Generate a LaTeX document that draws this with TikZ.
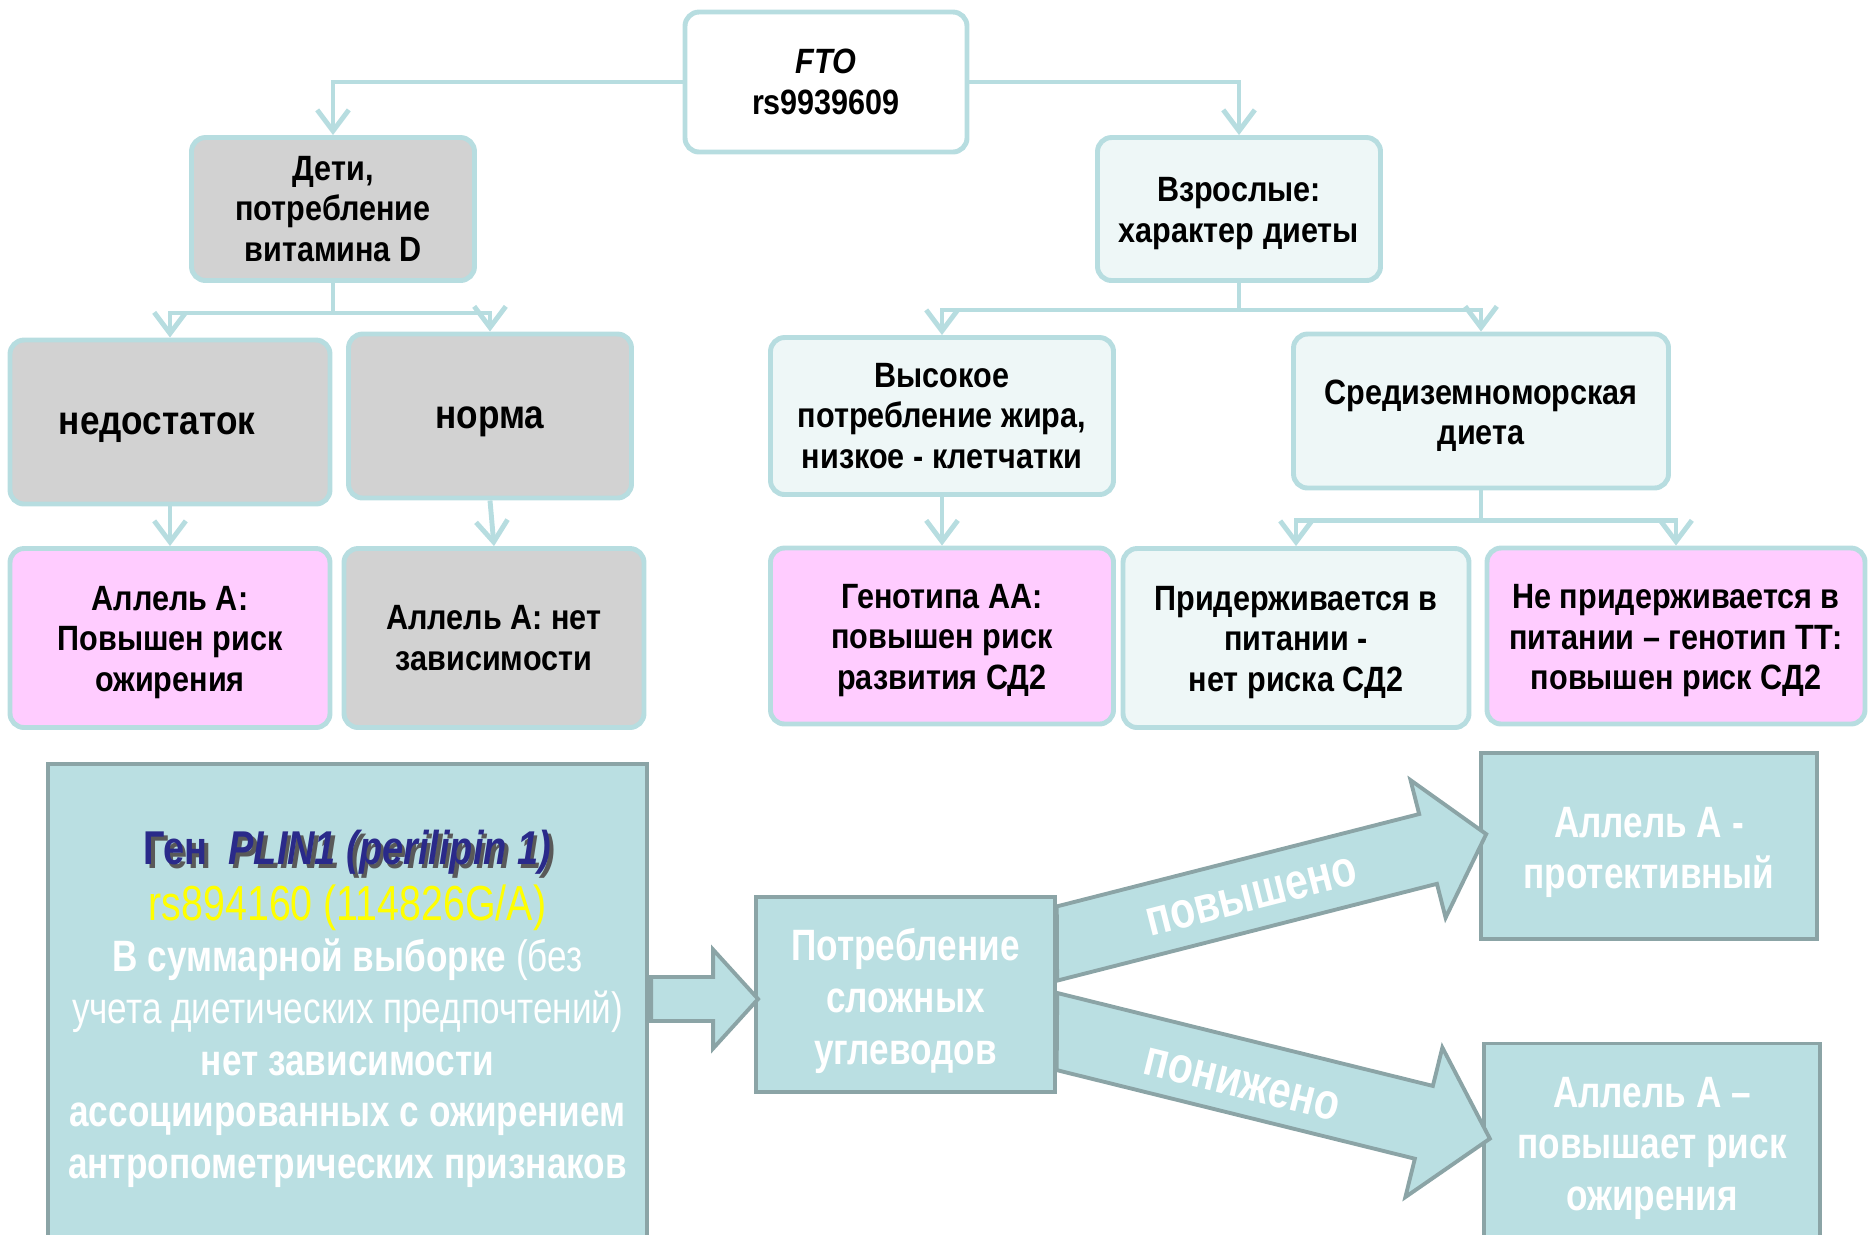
\documentclass[tikz,border=0pt]{standalone}
\usepackage{fontspec}
\setmainfont{Liberation Sans}[FakeStretch=0.87]
\newfontfamily\narrowfont{Liberation Sans}[FakeStretch=0.8]
\usetikzlibrary{arrows.meta,calc}

\definecolor{linkblue}{HTML}{B7DDE0}
\definecolor{boxgray}{HTML}{D2D2D2}
\definecolor{boxpink}{HTML}{FFCCFF}
\definecolor{boxpale}{HTML}{EEF7F7}
\definecolor{tealfill}{HTML}{BADFE2}
\definecolor{tealedge}{HTML}{8BA4A6}
\definecolor{genenavy}{HTML}{2A2A8A}
\definecolor{snpyellow}{HTML}{FFFF00}

\newcommand\shadowed[1]{\leavevmode\rlap{\kern1pt\raisebox{-1pt}{\color{black!65}#1}}{\color{genenavy}#1}}

\tikzset{
  databox/.style={draw=linkblue, line width=1.4pt, rounded corners=4pt, align=center,
    inner sep=1pt, font=\fontsize{10}{11.5}\selectfont\bfseries},
  graybox/.style={databox, fill=boxgray},
  pinkbox/.style={databox, fill=boxpink},
  palebox/.style={databox, fill=boxpale},
  bigword/.style={font=\fontsize{11.5}{13}\selectfont\bfseries, text height=7pt, text depth=0pt},
  link/.style={draw=linkblue, line width=1.4pt, -{Straight Barb[length=6pt,width=9pt]}},
  tealbox/.style={draw=tealedge, fill=tealfill, line width=1.1pt, align=center, text=white,
    inner sep=1pt, font=\narrowfont\fontsize{12.5}{14.7}\selectfont\bfseries},
  fatarrow/.style={draw=tealedge, fill=tealfill, line width=1.1pt},
  arrowlabel/.style={text=white, font=\narrowfont\fontsize{14.5}{16}\selectfont\bfseries}
}

\begin{document}
\begin{tikzpicture}
\useasboundingbox (0,0) rectangle (18.68,-12.34);
%draw top boxes
\node[databox, fill=white, minimum width=2.82cm, minimum height=1.40cm] (fto) at (8.26,-0.82) {\textit{FTO}\\rs9939609};
\node[graybox, minimum width=2.83cm, minimum height=1.43cm] (deti) at (3.33,-2.09) {Дети,\\потребление\\витамина D};
\node[palebox, minimum width=2.83cm, minimum height=1.43cm] (vzr) at (12.39,-2.09) {\rule{0pt}{9.5pt}Взрослые:\\характер диеты};
%draw second row
\node[graybox, bigword, minimum width=3.20cm, minimum height=1.64cm] (ned) at (1.70,-4.22) {недостаток\hspace{0.26cm}};
\node[graybox, bigword, minimum width=2.83cm, minimum height=1.64cm] (norma) at (4.90,-4.16) {норма};
\node[palebox, minimum width=3.43cm, minimum height=1.57cm] (vys) at (9.42,-4.16) {Высокое\\потребление жира,\\низкое - клетчатки};
\node[palebox, minimum width=3.75cm, minimum height=1.54cm] (sred) at (14.81,-4.11) {\rule{0pt}{9.8pt}Средиземноморская\\диета};
%draw third row
\node[pinkbox, minimum width=3.20cm, minimum height=1.79cm] (alA) at (1.70,-6.38) {\rule{0pt}{9.3pt}Аллель А:\\Повышен риск\\ожирения};
\node[graybox, minimum width=3.00cm, minimum height=1.79cm] (alnet) at (4.94,-6.38) {Аллель А: нет\\зависимости};
\node[pinkbox, minimum width=3.43cm, minimum height=1.76cm] (gen) at (9.42,-6.36) {\rule{0pt}{9.3pt}Генотипа АА:\\повышен риск\\развития СД2};
\node[palebox, minimum width=3.46cm, minimum height=1.79cm] (prid) at (12.96,-6.38) {\rule{0pt}{9.3pt}Придерживается в\\питании -\\нет риска СД2};
\node[pinkbox, minimum width=3.78cm, minimum height=1.76cm] (nepr) at (16.76,-6.36) {\rule{0pt}{9.5pt}Не придерживается в\\питании – генотип ТТ:\\повышен риск СД2};
%draw tree links
\draw[link] (fto.west) -| (deti.north);
\draw[link] (fto.east) -| (vzr.north);
\draw[link] (deti.south) -- ++(0,-0.30) -| (ned.north);
\draw[link] (deti.south) -- ++(0,-0.30) -| (norma.north);
\draw[link] (vzr.south) -- ++(0,-0.27) -| (vys.north);
\draw[link] (vzr.south) -- ++(0,-0.27) -| (sred.north);
\draw[link] (ned.south) -- (alA.north);
\draw[link] (norma.south) -- (alnet.north);
\draw[link] (vys.south) -- (gen.north);
\draw[link] (sred.south) -- ++(0,-0.30) -| (prid.north);
\draw[link] (sred.south) -- ++(0,-0.30) -| (nepr.north);
%
%draw lower part
\node[tealbox, minimum width=5.99cm, minimum height=4.90cm] (plin) at (3.475,-10.09) {%
{\fontsize{13.5}{16}\selectfont\shadowed{Ген\ \ \textit{PLIN1 (perilipin 1)}}}\\[1pt]
{\fontsize{14}{16}\selectfont\mdseries\color{snpyellow}rs894160 (114826G/A)}\\
В суммарной выборке {\mdseries(без}\\
{\mdseries учета диетических предпочтений)}\\
нет зависимости\\
ассоциированных с ожирением\\
антропометрических признаков};
\node[tealbox, minimum width=3.36cm, minimum height=1.86cm] (prot) at (16.49,-8.46) {\rule{0pt}{12.2pt}Аллель А -\\протективный};
\node[tealbox, minimum width=3.36cm, minimum height=1.97cm] (povys) at (16.52,-11.42) {\rule{0pt}{12.2pt}Аллель А –\\повышает риск\\ожирения};
\node[tealbox, minimum width=2.99cm, minimum height=1.95cm] (potr) at (9.055,-9.945) {\rule{0pt}{12.8pt}Потребление\\сложных\\углеводов};
%fat arrows
\begin{scope}[shift={(potr.west)}]
\draw[fatarrow] (0.04,-0.045) -- (-0.41,0.45) -- (-0.41,0.175) -- (-1.03,0.175) -- (-1.03,-0.265) -- (-0.41,-0.265) -- (-0.41,-0.54) -- cycle;
\end{scope}
\begin{scope}[shift={($(potr.east)+(0,0.51)$)}, rotate=14.3]
\draw[fatarrow] (0.09,0.36) -- (3.83,0.36) -- (3.83,0.71) -- (4.43,0) -- (3.83,-0.71) -- (3.83,-0.36) -- (-0.09,-0.36) -- cycle;
\node[arrowlabel, rotate=14.3] (uplabel) at (2.0,-0.03) {повышено};
\end{scope}
\begin{scope}[shift={($(potr.east)+(0,-0.37)$)}, rotate=-13.9]
\draw[fatarrow] (-0.09,0.375) -- (3.78,0.375) -- (3.78,0.77) -- (4.46,0) -- (3.78,-0.77) -- (3.78,-0.375) -- (0.09,-0.375) -- cycle;
\node[arrowlabel, rotate=-13.9] (downlabel) at (1.92,-0.07) {понижено};
\end{scope}

\end{tikzpicture}
\end{document}
